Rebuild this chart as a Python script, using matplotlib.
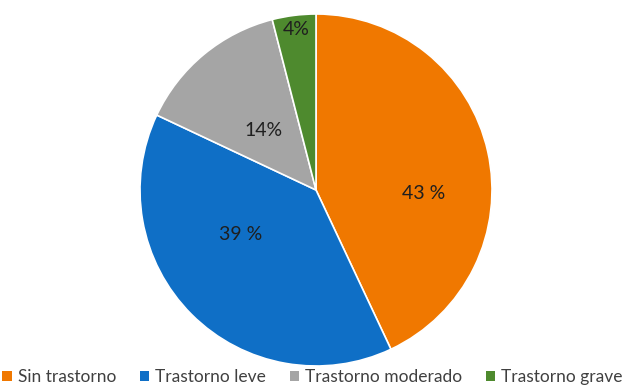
import numpy as np
import matplotlib
matplotlib.use("Agg")
import matplotlib.pyplot as plt

categorias = ["Sin trastorno", "Trastorno leve", "Trastorno moderado", "Trastorno grave"]
valores = [43, 39, 14, 4]
etiquetas = ["43 %", "39 %", "14%", "4%"]
colores = ["#F07800", "#0F6FC6", "#A5A5A5", "#4E8A2E"]
# label positions in pie radius units
lab_x = [0.61, -0.43, -0.30, -0.11]
lab_y = [-0.02, -0.25, 0.34, 0.91]

plt.rcParams['font.family'] = ['Lato', 'DejaVu Sans']

fig = plt.figure(figsize=(6.25, 3.87), dpi=100)
ax = fig.add_axes([140/625, 21/387, 352/625, 352/387])
wedges, _ = ax.pie(valores, colors=colores, startangle=90, counterclock=False,
                   wedgeprops=dict(edgecolor="white", linewidth=1.2))
ax.set_xlim(-1, 1)
ax.set_ylim(-1, 1)
ax.set_aspect("equal")

for x, y, txt in zip(lab_x, lab_y, etiquetas):
    ax.text(x, y, txt, ha="center", va="center", fontsize=14, color="#1F1F1F")

leg = fig.legend(wedges, categorias, loc="center", bbox_to_anchor=(0.5, 10/387),
                 ncol=4, frameon=False, fontsize=12.5, handlelength=0.55,
                 handleheight=0.55, handletextpad=0.35, columnspacing=1.35,
                 labelcolor="#404040")
for h in leg.legend_handles:
    h.set_edgecolor("none")

fig.savefig("out.png", dpi=100)
